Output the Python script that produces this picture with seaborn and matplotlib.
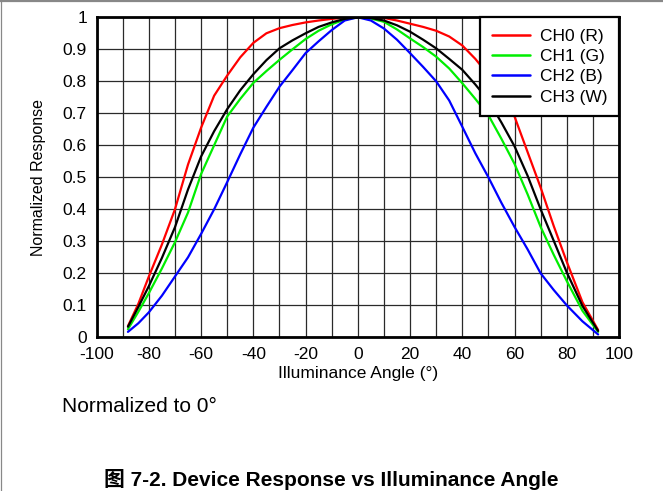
import matplotlib
matplotlib.use("Agg")
import matplotlib.pyplot as plt
import matplotlib.lines as mlines
import seaborn as sns
import pandas as pd
import numpy as np

# ---- data ----
angles = [-88, -84, -80, -75, -70, -65, -60, -55, -50, -45, -40, -35, -30, -25,
          -20, -15, -10, -5, 0, 5, 10, 15, 20, 25, 30, 35, 40, 45, 50, 55, 60,
          65, 70, 75, 80, 86, 92]
ch0_r = [0.035, 0.105, 0.19, 0.29, 0.40, 0.54, 0.655, 0.755, 0.818, 0.875, 0.92,
         0.95, 0.966, 0.976, 0.984, 0.99, 0.995, 0.999, 1.0, 1.0, 0.998, 0.99,
         0.98, 0.97, 0.958, 0.94, 0.912, 0.87, 0.82, 0.76, 0.69, 0.579, 0.468,
         0.348, 0.236, 0.11, 0.023]
ch1_g = [0.025, 0.08, 0.138, 0.215, 0.297, 0.39, 0.51, 0.60, 0.69, 0.745, 0.795,
         0.832, 0.867, 0.90, 0.932, 0.958, 0.978, 0.993, 1.0, 0.996, 0.986, 0.962,
         0.934, 0.907, 0.877, 0.84, 0.794, 0.745, 0.694, 0.62, 0.542, 0.447,
         0.345, 0.258, 0.176, 0.083, 0.017]
ch2_b = [0.017, 0.044, 0.078, 0.13, 0.19, 0.25, 0.323, 0.40, 0.485, 0.572, 0.655,
         0.72, 0.783, 0.835, 0.888, 0.925, 0.96, 0.99, 1.0, 0.99, 0.965, 0.93,
         0.888, 0.845, 0.80, 0.74, 0.658, 0.575, 0.50, 0.42, 0.345, 0.275, 0.20,
         0.148, 0.10, 0.05, 0.009]
ch3_w = [0.033, 0.095, 0.16, 0.248, 0.344, 0.462, 0.565, 0.644, 0.713, 0.772, 0.822,
         0.866, 0.903, 0.928, 0.95, 0.97, 0.984, 0.995, 1.0, 0.998, 0.99, 0.975,
         0.955, 0.93, 0.903, 0.87, 0.836, 0.79, 0.74, 0.671, 0.597, 0.505, 0.40,
         0.302, 0.203, 0.098, 0.02]

channels = ["CH0 (R)", "CH1 (G)", "CH2 (B)", "CH3 (W)"]
colors = ["#ff0000", "#00ee00", "#0000ff", "#000000"]
x_ticks = [-100, -80, -60, -40, -20, 0, 20, 40, 60, 80, 100]
x_ticklabels = ["-100", "-80", "-60", "-40", "-20", "0", "20", "40", "60", "80", "100"]
y_ticks = [0, 0.1, 0.2, 0.3, 0.4, 0.5, 0.6, 0.7, 0.8, 0.9, 1.0]
y_ticklabels = ["0", "0.1", "0.2", "0.3", "0.4", "0.5", "0.6", "0.7", "0.8", "0.9", "1"]

rows = []
for name, vals in zip(channels, [ch0_r, ch1_g, ch2_b, ch3_w]):
    for a, v in zip(angles, vals):
        rows.append({"angle": a, "response": v, "channel": name})
df = pd.DataFrame(rows)

sns.set_style("white")
plt.rcParams["font.family"] = ["Liberation Sans", "Noto Sans CJK SC", "DejaVu Sans"]
plt.rcParams["text.color"] = "black"
plt.rcParams["axes.labelcolor"] = "black"
plt.rcParams["xtick.color"] = "black"
plt.rcParams["ytick.color"] = "black"

W, H = 663, 491
fig = plt.figure(figsize=(W / 100, H / 100), dpi=100)
ax = fig.add_axes([96.6 / W, 1 - 337.3 / H, (619 - 96.6) / W, (337.3 - 17.3) / H])

sns.lineplot(data=df, x="angle", y="response", hue="channel",
             palette=dict(zip(channels, colors)), hue_order=channels,
             linewidth=1.6, ax=ax, legend=True, sort=True, estimator=None)

ax.set_xlim(-100, 100)
ax.set_ylim(0, 1)
ax.set_xticks(x_ticks)
ax.set_xticklabels(x_ticklabels)
ax.set_xticks(np.arange(-90, 100, 20), minor=True)
ax.set_yticks(y_ticks)
ax.set_yticklabels(y_ticklabels)
ax.grid(True, which="both", color="#2a2a2a", linewidth=0.9)
ax.set_axisbelow(True)
ax.tick_params(axis="both", which="both", length=0, labelsize=12.5,
               colors="black", labelcolor="black")
ax.tick_params(axis="y", pad=7)
ax.tick_params(axis="x", pad=7)
for s in ax.spines.values():
    s.set_visible(True)
    s.set_color("black")
    s.set_linewidth(2.0)

ax.set_xlabel("Illuminance Angle (°)", fontsize=12.5, labelpad=3, color="black")
ax.set_ylabel("Normalized Response", fontsize=11.5, labelpad=12, color="black")

handles, labels = ax.get_legend_handles_labels()
leg = ax.legend(handles, labels, loc="upper right", fontsize=12.5, frameon=True,
                fancybox=False, edgecolor="black", framealpha=1,
                borderaxespad=0, borderpad=0.65, labelspacing=0.3,
                handlelength=2.2, handletextpad=0.6)
leg.get_frame().set_linewidth(1.6)
for t in leg.get_texts():
    t.set_color("black")
for h in leg.get_lines():
    h.set_linewidth(1.8)

fig.text(62 / W, 1 - 406 / H, "Normalized to 0°", fontsize=15, va="center",
         ha="left", color="black")
fig.text(0.5, 1 - 479 / H, "图 7-2. Device Response vs Illuminance Angle",
         fontsize=15, fontweight="bold", ha="center", va="center", color="black",
         family=["Liberation Sans", "Noto Sans CJK SC"])

# page border lines (top and left)
fig.add_artist(mlines.Line2D([0, 1], [1 - 1 / H, 1 - 1 / H], color="#888888",
                             linewidth=1.6, transform=fig.transFigure))
fig.add_artist(mlines.Line2D([0.5 / W, 0.5 / W], [0, 1], color="#888888",
                             linewidth=0.9, transform=fig.transFigure))

fig.savefig("out.png", dpi=100)
